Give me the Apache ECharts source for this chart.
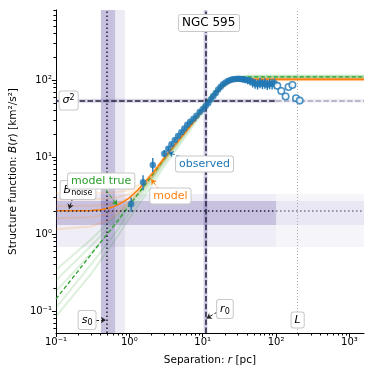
<!DOCTYPE html>
<html>
<head>
<meta charset="utf-8">
<script src="https://cdn.jsdelivr.net/npm/echarts@6/dist/echarts.min.js"></script>
<style>
  html, body { margin: 0; padding: 0; background: #fff; }
  #chart { width: 374px; height: 374px; }
</style>
</head>
<body>
<div id="chart"></div>
<script>
// ticks
const xMajorTicks = [0.1, 1, 10, 100, 1000];
const xMajorLabels = ['10⁻¹', '10⁰', '10¹', '10²', '10³'];
const xMinorTicks = [0.2, 0.3, 0.4, 0.5, 0.6, 0.7, 0.8, 0.9, 2, 3, 4, 5, 6, 7, 8, 9,
  20, 30, 40, 50, 60, 70, 80, 90, 200, 300, 400, 500, 600, 700, 800, 900];
const yMajorTicks = [0.1, 1, 10, 100];
const yMajorLabels = ['10⁻¹', '10⁰', '10¹', '10²'];
const yMinorTicks = [0.06, 0.07, 0.08, 0.09, 0.2, 0.3, 0.4, 0.5, 0.6, 0.7, 0.8, 0.9,
  2, 3, 4, 5, 6, 7, 8, 9, 20, 30, 40, 50, 60, 70, 80, 90, 200, 300, 400, 500, 600, 700, 800];

// observed structure function (filled points) and error bars
const obsR = [1.06, 1.54, 2.09, 3.0, 3.4, 3.76, 4.18, 4.62, 5.12, 5.62, 6.16, 6.76, 7.5, 8.23,
  9.11, 10.0, 10.97, 11.9, 12.9, 14.0, 15.1, 16.3, 17.6, 19.0, 20.5, 22.1, 23.9, 25.8, 27.9,
  30.2, 32.6, 35.2, 38.0, 41.1, 44.4, 48.0, 51.8, 56, 60.5, 65.3, 70.5, 76, 82, 88.5, 95.5];
const obsB = [2.45, 4.7, 7.9, 11.0, 12.8, 14.6, 16.6, 18.7, 21.0, 23.5, 26.2, 28.7, 31.4, 34.4,
  38.3, 41.6, 46, 50, 56, 62, 68, 75, 82, 88, 93, 97, 100, 102, 103, 103.5, 103, 102, 101, 99,
  97, 93, 90, 88, 92, 89, 91, 87, 90, 89, 91];
const obsLo = [1.95, 3.7, 6.4, 9.9, 12.0, 13.8, 15.8, 17.9, 20.1, 22.6, 25.2, 27.6, 30.2, 33.0,
  36.7, 39.9, 44, 47.8, 53.5, 59, 64.5, 71, 77.5, 83, 87.5, 91, 93.5, 95, 95.5, 95.5, 94.5, 93,
  91, 88, 85, 80, 77, 75, 78, 76, 77, 74, 76, 75, 77];
const obsHi = [2.95, 5.8, 9.7, 12.3, 13.7, 15.4, 17.4, 19.5, 21.9, 24.4, 27.2, 29.8, 32.6, 35.8,
  39.9, 43.3, 48, 52.2, 58.5, 65, 71.5, 79, 86.5, 93, 98.5, 103, 106.5, 109, 110.5, 111.5, 111.5,
  111, 111, 110, 109, 106, 103, 101, 106, 102, 105, 100, 104, 103, 105];

// large-separation points (open circles)
const openR = [104, 118, 135, 148, 167, 187, 210];
const openB = [84, 72, 61, 81, 86, 58, 54];

// best model (with seeing + noise) and true model
const modelR = [0.1, 0.2, 0.3, 0.4, 0.5, 0.6, 0.7, 0.85, 1, 1.3, 1.7, 2.2, 3, 4, 5, 6.5, 8, 11,
  14, 17, 21, 26, 32, 45, 100, 1580];
const modelB = [2.0, 2.0, 2.02, 2.06, 2.14, 2.25, 2.4, 2.65, 2.95, 3.7, 4.9, 6.6, 9.8, 13.8,
  17.8, 24, 30.5, 45, 60, 75, 89, 98, 101, 102, 102, 102];
const trueR = [0.1, 0.2, 0.3, 0.5, 0.7, 1, 1.5, 2, 3, 5, 8, 11, 14, 18, 22, 27, 35, 100, 1580];
const trueB = [0.143, 0.33, 0.54, 1.0, 1.5, 2.35, 3.9, 5.6, 9.5, 18, 33, 52, 68, 86, 98, 106,
  110, 110, 110];

// posterior sample curves
const sampleR = [0.1, 0.3, 0.5, 0.7, 1, 1.5, 2, 3, 5, 8, 12, 18, 25, 40, 100, 1580];
const trueSamples = [
  [0.085, 0.3, 0.6, 0.95, 1.6, 2.8, 4.2, 7.6, 15, 28, 48, 78, 97, 106, 106, 106],
  [0.11, 0.4, 0.75, 1.15, 1.9, 3.2, 4.7, 8.3, 16, 30, 50, 81, 100, 108, 108, 108],
  [0.18, 0.56, 0.98, 1.4, 2.2, 3.5, 5.0, 8.8, 17, 31, 52, 84, 103, 110, 110, 110],
  [0.25, 0.7, 1.15, 1.6, 2.4, 3.7, 5.2, 9.0, 17.5, 32, 53, 86, 105, 112, 112, 112],
  [0.34, 0.85, 1.35, 1.8, 2.6, 3.9, 5.4, 9.3, 18, 33, 55, 88, 107, 114, 114, 114]
];
const modelSamples = [
  [1.15, 1.25, 1.5, 1.85, 2.5, 3.8, 5.3, 9.0, 17, 30, 50, 80, 95, 99, 99, 99],
  [1.6, 1.65, 1.8, 2.05, 2.65, 3.9, 5.4, 9.2, 17.3, 30.5, 51, 82, 97, 101, 101, 101],
  [2.3, 2.32, 2.4, 2.55, 2.95, 4.1, 5.6, 9.5, 17.6, 31, 52, 84, 98, 102, 102, 102],
  [2.8, 2.82, 2.9, 3.0, 3.3, 4.3, 5.8, 9.7, 17.9, 31.5, 53, 85, 99, 103, 103, 103],
  [3.4, 3.4, 3.45, 3.5, 3.7, 4.6, 6.0, 10, 18.2, 32, 54, 86, 100, 105, 105, 105]
];

// fitted parameters
const sig2 = 54;
const sig2Range = [50.6, 57];
const r0 = 10.9;
const r0Range = [10.3, 11.6];
const s0 = 0.5;
const s0Inner = [0.41, 0.64];
const s0Outer = [0.41, 0.87];
const noise = 2.0;
const noiseInner = [1.31, 2.68];
const noiseOuter = [0.68, 3.3];
const Lbox = 197;

const xMin = 0.1, xMax = 1580, yMin = 0.0518, yMax = 811;

const BLUE = '#1f77b4', ORANGE = '#ff7f0e', GREEN = '#2ca02c';
const band = a => `rgba(75,60,150,${a})`;
const FONT = 'DejaVu Sans';

const pairs = (xs, ys) => xs.map((x, i) => [x, ys[i]]);
const labelFor = (ticks, labels) => v => {
  const i = ticks.findIndex(t => Math.abs(Math.log10(t) - Math.log10(v)) < 1e-6);
  return i >= 0 ? labels[i] : '';
};

const boxLabel = {
  show: true,
  position: 'inside',
  backgroundColor: '#fff',
  borderColor: '#c8c8c8',
  borderWidth: 1,
  borderRadius: 2,
  padding: [2, 3, 2, 3],
  fontSize: 10,
  fontFamily: FONT,
  color: '#000',
  rich: {
    i: { fontStyle: 'italic', fontSize: 11, fontFamily: FONT },
    sub: { fontSize: 8, fontFamily: FONT, padding: [6, 0, 0, 0] },
    sup: { fontSize: 8, fontFamily: FONT, padding: [0, 0, 6, 0] }
  }
};

const chart = echarts.init(document.getElementById('chart'));

const series = [];

// bands and reference lines
series.push({
  type: 'line',
  data: [[xMin, noise]],
  showSymbol: false,
  silent: true,
  z: 1,
  markArea: {
    silent: true,
    data: [
      [{ xAxis: s0Outer[0], itemStyle: { color: band(0.10) } }, { xAxis: s0Outer[1] }],
      [{ xAxis: s0Inner[0], itemStyle: { color: band(0.24) } }, { xAxis: s0Inner[1] }],
      [{ xAxis: r0Range[0], itemStyle: { color: band(0.25) } }, { xAxis: r0Range[1] }],
      [{ coord: [xMin, sig2Range[0]], itemStyle: { color: band(0.2) } }, { coord: [100, sig2Range[1]] }],
      [{ coord: [100, sig2Range[0]], itemStyle: { color: band(0.08) } }, { coord: [xMax, sig2Range[1]] }],
      [{ coord: [xMin, noiseOuter[0]], itemStyle: { color: band(0.09) } }, { coord: [100, noiseOuter[1]] }],
      [{ coord: [100, noiseOuter[0]], itemStyle: { color: band(0.05) } }, { coord: [xMax, noiseOuter[1]] }],
      [{ coord: [xMin, noiseInner[0]], itemStyle: { color: band(0.24) } }, { coord: [100, noiseInner[1]] }],
      [{ coord: [100, noiseInner[0]], itemStyle: { color: band(0.08) } }, { coord: [xMax, noiseInner[1]] }]
    ]
  },
  markLine: {
    silent: true,
    symbol: ['none', 'none'],
    label: { show: false },
    data: [
      { xAxis: s0, lineStyle: { color: '#22223a', width: 1.5, type: [1.5, 2.5] } },
      { xAxis: r0, lineStyle: { color: '#22223a', width: 1.5, type: [5.5, 2.4] } },
      { xAxis: Lbox, lineStyle: { color: '#aaaaaa', width: 1, type: [1, 2] } },
      [{ coord: [xMin, sig2], lineStyle: { color: '#22223a', width: 1.5, type: [5.5, 2.4] } }, { coord: [100, sig2] }],
      [{ coord: [100, sig2], lineStyle: { color: '#a9a6bd', width: 1.5, type: [5.5, 2.4] } }, { coord: [xMax, sig2] }],
      [{ coord: [xMin, noise], lineStyle: { color: '#22223a', width: 1.5, type: [1.5, 2.5] } }, { coord: [100, noise] }],
      [{ coord: [100, noise], lineStyle: { color: '#77758a', width: 1.5, type: [1.5, 2.5] } }, { coord: [xMax, noise] }]
    ]
  }
});

// sample curves
trueSamples.forEach(s => series.push({
  type: 'line', data: pairs(sampleR, s), showSymbol: false, silent: true, z: 2,
  lineStyle: { color: 'rgba(44,160,44,0.16)', width: 2 }
}));
modelSamples.forEach(s => series.push({
  type: 'line', data: pairs(sampleR, s), showSymbol: false, silent: true, z: 2,
  lineStyle: { color: 'rgba(255,140,20,0.18)', width: 2 }
}));

// main model curves
series.push({
  type: 'line', data: pairs(trueR, trueB), showSymbol: false, silent: true, z: 3,
  lineStyle: { color: GREEN, width: 1.3, type: [4, 2.5] }
});
series.push({
  type: 'line', data: pairs(modelR, modelB), showSymbol: false, silent: true, z: 3,
  lineStyle: { color: ORANGE, width: 1.6 }
});

// error bars
series.push({
  type: 'custom',
  silent: true,
  z: 4,
  data: obsR.map((r, i) => [r, obsLo[i], obsHi[i]]),
  encode: { x: 0, y: [1, 2] },
  renderItem(params, api) {
    const p1 = api.coord([api.value(0), api.value(1)]);
    const p2 = api.coord([api.value(0), api.value(2)]);
    return {
      type: 'line',
      shape: { x1: p1[0], y1: p1[1], x2: p2[0], y2: p2[1] },
      style: { stroke: BLUE, lineWidth: 1.4 }
    };
  }
});

// observed points
series.push({
  type: 'scatter', data: pairs(obsR, obsB), symbol: 'circle', symbolSize: 6.5, silent: true, z: 5,
  itemStyle: { color: BLUE }
});
series.push({
  type: 'scatter', data: pairs(openR, openB), symbol: 'circle', symbolSize: 6.5, silent: true, z: 5,
  itemStyle: { color: '#fff', borderColor: BLUE, borderWidth: 1.6 }
});

// annotations
const arrow = (a, b, color) => [
  { coord: a, lineStyle: { color: color, width: 1 } },
  { coord: b }
];
series.push({
  type: 'line',
  data: [[xMin, noise]],
  showSymbol: false,
  silent: true,
  z: 10,
  markLine: {
    silent: true,
    symbol: ['none', 'arrow'],
    symbolSize: 5,
    label: { show: false },
    data: [
      arrow([0.171, 3.02], [0.151, 2.11], '#222'),
      arrow([0.479, 3.73], [0.683, 2.38], GREEN),
      arrow([2.57, 3.73], [1.99, 5.13], ORANGE),
      arrow([4.98, 10.1], [3.42, 11.4], BLUE),
      arrow([0.342, 0.0764], [0.479, 0.0764], '#222'),
      arrow([16.1, 0.098], [11.3, 0.080], '#222')
    ]
  },
  markPoint: {
    silent: true,
    symbol: 'circle',
    symbolSize: 1,
    itemStyle: { color: 'rgba(0,0,0,0)' },
    label: boxLabel,
    data: [
      { coord: [0.149, sig2], label: { formatter: '{i|σ}{sup|2}' } },
      { coord: [0.2, 3.73], label: { formatter: '{i|B}{sub|noise}' } },
      { coord: [0.414, 4.88], label: { formatter: 'model true', color: GREEN, fontSize: 11 } },
      { coord: [3.63, 3.11], label: { formatter: 'model', color: ORANGE, fontSize: 11 } },
      { coord: [10.6, 8.1], label: { formatter: 'observed', color: BLUE, fontSize: 11 } },
      { coord: [0.266, 0.0764], label: { formatter: '{i|s}{sub|0}' } },
      { coord: [20.1, 0.106], label: { formatter: '{i|r}{sub|0}' } },
      { coord: [Lbox, 0.0764], label: { formatter: '{i|L}' } }
    ]
  }
});

const option = {
  animation: false,
  title: {
    text: 'NGC 595',
    left: 178,
    top: 14,
    padding: [3, 4, 3, 4],
    backgroundColor: '#fff',
    borderColor: '#c8c8c8',
    borderWidth: 1,
    borderRadius: 2,
    textStyle: { fontSize: 12, fontWeight: 'normal', color: '#000', fontFamily: FONT }
  },
  grid: { left: 50.7, right: 10, top: 10, bottom: 41 },
  xAxis: [
    {
      type: 'log', min: xMin, max: xMax, position: 'bottom',
      name: 'Separation: {i|r} [pc]',
      nameLocation: 'middle',
      nameGap: 22,
      nameTextStyle: {
        fontSize: 10.5, color: '#000', fontFamily: FONT,
        rich: { i: { fontStyle: 'italic', fontSize: 10.5, fontFamily: FONT } }
      },
      axisLine: { lineStyle: { color: '#000', width: 1 } },
      axisTick: { customValues: xMajorTicks, length: 4, lineStyle: { color: '#000' } },
      axisLabel: {
        customValues: xMajorTicks, formatter: labelFor(xMajorTicks, xMajorLabels),
        fontSize: 10, color: '#000', fontFamily: FONT, margin: 4
      },
      splitLine: { show: false }
    },
    {
      type: 'log', min: xMin, max: xMax, position: 'bottom',
      axisLine: { show: false },
      axisTick: { customValues: xMinorTicks, length: 2.5, lineStyle: { color: '#000' } },
      axisLabel: { show: false },
      splitLine: { show: false }
    }
  ],
  yAxis: [
    {
      type: 'log', min: yMin, max: yMax, position: 'left',
      name: 'Structure function: {i|B}({i|r}) [km²/s²]',
      nameLocation: 'middle',
      nameGap: 34,
      nameTextStyle: {
        fontSize: 10.5, color: '#000', fontFamily: FONT,
        rich: { i: { fontStyle: 'italic', fontSize: 10.5, fontFamily: FONT } }
      },
      axisLine: { lineStyle: { color: '#000', width: 1 } },
      axisTick: { customValues: yMajorTicks, length: 4, lineStyle: { color: '#000' } },
      axisLabel: {
        customValues: yMajorTicks, formatter: labelFor(yMajorTicks, yMajorLabels),
        fontSize: 10, color: '#000', fontFamily: FONT, margin: 4
      },
      splitLine: { show: false }
    },
    {
      type: 'log', min: yMin, max: yMax, position: 'left',
      axisLine: { show: false },
      axisTick: { customValues: yMinorTicks, length: 2.5, lineStyle: { color: '#000' } },
      axisLabel: { show: false },
      splitLine: { show: false }
    }
  ],
  series: series
};

chart.setOption(option);
</script>
</body>
</html>
